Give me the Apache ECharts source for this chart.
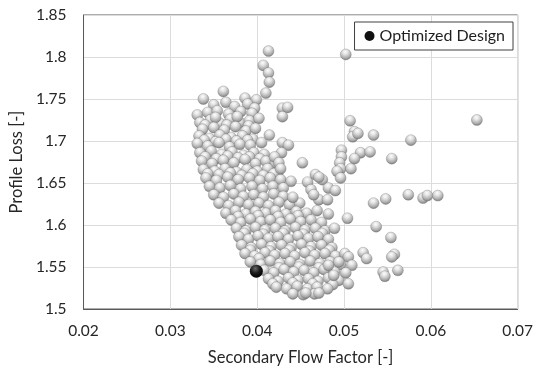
<!DOCTYPE html>
<html><head><meta charset="utf-8">
<script src="https://cdn.jsdelivr.net/npm/echarts@6/dist/echarts.min.js"></script>
<style>html,body{margin:0;padding:0;background:#fff}#c{width:536px;height:374px}</style>
</head><body><div id="c"></div>
<script>
// ---- data (Secondary Flow Factor, Profile Loss) ----
const xTickLabels = ['0.02','0.03','0.04','0.05','0.06','0.07'];
const yTickLabels = ['1.5','1.55','1.6','1.65','1.7','1.75','1.8','1.85'];

const topColumnPoints = [
  [0.0413,1.807],[0.0407,1.790],[0.0413,1.781],[0.0414,1.770],[0.0410,1.757],[0.0502,1.803]
];

const upperLeftPoints = [
  [0.0338,1.750],[0.0361,1.759],[0.0386,1.751],[0.0399,1.749],
  [0.0350,1.743],[0.0364,1.746],[0.0374,1.741],[0.0389,1.744],[0.0397,1.739],
  [0.0331,1.731],[0.0343,1.734],[0.0354,1.736],[0.0367,1.732],[0.0381,1.735],[0.0394,1.733],
  [0.0334,1.722],[0.0346,1.725],[0.0357,1.721],[0.0369,1.726],[0.0380,1.722],[0.0391,1.724],[0.0402,1.727],
  [0.0340,1.719],[0.0352,1.728],[0.0365,1.719],[0.0377,1.729],[0.0390,1.718],
  [0.0337,1.714],[0.0350,1.716],[0.0362,1.713],[0.0375,1.717],[0.0387,1.712],[0.0398,1.715],
  [0.0333,1.706],[0.0345,1.703],[0.0357,1.707],[0.0370,1.704],[0.0383,1.706],[0.0395,1.702],[0.0414,1.707],
  [0.0339,1.701],[0.0352,1.699],[0.0364,1.702],[0.0376,1.700],[0.0389,1.701],
  [0.0331,1.697],[0.0343,1.694],[0.0356,1.698],[0.0368,1.693],[0.0380,1.696],[0.0392,1.695],[0.0405,1.698],
  [0.0334,1.686],[0.0347,1.688],[0.0359,1.684],[0.0371,1.687],[0.0384,1.683],[0.0396,1.686],[0.0408,1.684],
  [0.0340,1.681],[0.0353,1.679],[0.0366,1.682],[0.0378,1.680],[0.0391,1.681],[0.0403,1.679],
  [0.0336,1.676],[0.0348,1.673],[0.0361,1.677],[0.0373,1.674],[0.0386,1.678],[0.0398,1.673],[0.0410,1.676],[0.0421,1.674],
  [0.0338,1.666],[0.0351,1.664],[0.0363,1.667],[0.0376,1.663],[0.0388,1.666],[0.0400,1.664],[0.0412,1.667],[0.0424,1.663],
  [0.0343,1.661],[0.0356,1.660],[0.0369,1.662],[0.0382,1.659],[0.0395,1.661],[0.0407,1.659],[0.0419,1.661],
  [0.0341,1.656],[0.0353,1.653],[0.0366,1.657],[0.0378,1.654],[0.0391,1.656],[0.0403,1.653],[0.0415,1.656],[0.0427,1.654],[0.0439,1.652],
  [0.0345,1.646],[0.0357,1.644],[0.0369,1.647],[0.0381,1.643],[0.0394,1.646],[0.0406,1.643],[0.0418,1.646],[0.0430,1.644]
];

const rightSpreadPoints = [
  [0.0429,1.739],[0.0435,1.740],[0.0429,1.729],[0.0429,1.698],[0.0436,1.695],[0.0428,1.686],
  [0.0420,1.681],[0.0425,1.674],[0.0427,1.667],[0.0452,1.674],
  [0.0507,1.724],[0.0512,1.711],[0.0510,1.705],[0.0516,1.709],[0.0534,1.707],[0.0577,1.701],[0.0653,1.725],
  [0.0497,1.689],[0.0497,1.681],[0.0495,1.674],[0.0496,1.667],[0.0492,1.664],[0.0508,1.667],
  [0.0519,1.686],[0.0530,1.687],[0.0512,1.679],[0.0555,1.679],
  [0.0458,1.651],[0.0462,1.642],[0.0467,1.660],[0.0475,1.654],[0.0471,1.657],[0.0482,1.644],[0.0490,1.641],
  [0.0471,1.630],[0.0481,1.630],[0.0465,1.636],[0.0496,1.656],[0.0441,1.633],
  [0.0534,1.626],[0.0548,1.631],[0.0574,1.636],[0.0591,1.632],[0.0596,1.635],[0.0608,1.635],
  [0.0504,1.608],[0.0482,1.613],[0.0489,1.596],[0.0537,1.598],[0.0554,1.585],
  [0.0522,1.567],[0.0526,1.560],[0.0505,1.562],[0.0509,1.552],[0.0545,1.544],[0.0547,1.539],
  [0.0558,1.565],[0.0555,1.562],[0.0562,1.546],[0.0494,1.556],[0.0482,1.552],[0.0502,1.543],
  [0.0488,1.540],[0.0505,1.530],[0.0471,1.519],[0.0456,1.519]
];

const lowerArcPoints = [
  [0.0350,1.636],[0.0361,1.633],[0.0373,1.637],[0.0384,1.634],[0.0396,1.636],[0.0407,1.633],[0.0419,1.637],[0.0430,1.634],
  [0.0356,1.626],[0.0367,1.623],[0.0379,1.627],[0.0390,1.624],[0.0402,1.626],[0.0413,1.623],[0.0425,1.627],[0.0437,1.624],[0.0449,1.626],
  [0.0364,1.614],[0.0375,1.617],[0.0387,1.613],[0.0398,1.616],[0.0410,1.614],[0.0421,1.617],[0.0433,1.613],[0.0445,1.616],[0.0457,1.614],[0.0469,1.617],
  [0.0378,1.610],[0.0401,1.611],[0.0424,1.610],[0.0447,1.611],
  [0.0370,1.606],[0.0381,1.603],[0.0392,1.607],[0.0404,1.604],[0.0415,1.606],[0.0427,1.603],[0.0438,1.607],[0.0450,1.604],[0.0462,1.606],[0.0474,1.603],
  [0.0376,1.596],[0.0387,1.593],[0.0398,1.597],[0.0409,1.594],[0.0421,1.596],[0.0432,1.593],[0.0444,1.597],[0.0455,1.594],[0.0467,1.596],[0.0478,1.593],
  [0.0385,1.590],[0.0407,1.589],[0.0430,1.590],[0.0453,1.589],[0.0475,1.590],
  [0.0379,1.586],[0.0390,1.583],[0.0401,1.587],[0.0413,1.584],[0.0424,1.586],[0.0436,1.583],[0.0447,1.587],[0.0459,1.584],[0.0470,1.586],[0.0482,1.583],
  [0.0382,1.576],[0.0393,1.573],[0.0405,1.577],[0.0416,1.574],[0.0428,1.576],[0.0439,1.573],[0.0451,1.577],[0.0462,1.574],[0.0474,1.576],[0.0486,1.573],
  [0.0392,1.570],[0.0414,1.569],[0.0437,1.570],[0.0460,1.569],[0.0483,1.570],
  [0.0386,1.566],[0.0397,1.563],[0.0409,1.567],[0.0420,1.564],[0.0432,1.566],[0.0443,1.563],[0.0455,1.567],[0.0466,1.564],[0.0478,1.566],[0.0490,1.563],[0.0501,1.566],
  [0.0402,1.560],
  [0.0392,1.556],[0.0404,1.553],[0.0415,1.557],[0.0426,1.554],[0.0438,1.556],[0.0449,1.553],[0.0461,1.557],[0.0472,1.554],[0.0484,1.556],[0.0496,1.553],
  [0.0425,1.549],[0.0448,1.550],[0.0471,1.549],
  [0.0408,1.546],[0.0419,1.543],[0.0431,1.547],[0.0442,1.544],[0.0454,1.546],[0.0465,1.543],[0.0477,1.547],[0.0489,1.544],
  [0.0413,1.536],[0.0424,1.533],[0.0436,1.537],[0.0447,1.534],[0.0459,1.536],[0.0470,1.533],[0.0482,1.537],[0.0494,1.534],
  [0.0418,1.530],[0.0441,1.531],[0.0464,1.530],[0.0487,1.529],
  [0.0422,1.526],[0.0434,1.524],[0.0446,1.527],[0.0458,1.524],[0.0469,1.526],[0.0481,1.524],
  [0.0441,1.518],[0.0453,1.517],[0.0466,1.518]
];

const optimizedPoints = [[0.0399,1.545]];

// ---- chart ----
const FONT = 'Lato';
const AX = '#5a5a5a';
const TXT = '#262626';
const chart = echarts.init(document.getElementById('c'), null, {renderer:'canvas'});

const greySphere = {
  type:'radial', x:0.45, y:0.28, r:0.75,
  colorStops:[
    {offset:0, color:'#fdfdfd'},
    {offset:0.3, color:'#e2e2e2'},
    {offset:0.7, color:'#ababab'},
    {offset:1, color:'#747474'}
  ]
};
const blackSphere = {
  type:'radial', x:0.42, y:0.3, r:0.72,
  colorStops:[
    {offset:0, color:'#6a6a6a'},
    {offset:0.5, color:'#1a1a1a'},
    {offset:1, color:'#000000'}
  ]
};

function lookup(labels, v){
  const f = labels.find(l => Math.abs(parseFloat(l) - v) < 1e-9);
  return f === undefined ? '' : f;
}

chart.setOption({
  animation:false,
  backgroundColor:'#ffffff',
  grid:{left:80, right:17, top:15, bottom:65, show:true, borderColor:AX, borderWidth:1, containLabel:false},
  legend:{
    data:['Optimized Design'],
    right:23, top:22,
    icon:'circle', itemWidth:10, itemHeight:10,
    padding:[6,8,6,10],
    borderColor:'#404040', borderWidth:1, backgroundColor:'#ffffff',
    itemStyle:{color:'#111111'},
    textStyle:{fontFamily:FONT, fontSize:16, color:'#1e1e1e'}
  },
  xAxis:{
    type:'value', min:0.02, max:0.07, interval:0.01,
    name:'Secondary Flow Factor [-]', nameLocation:'middle', nameGap:40,
    nameTextStyle:{fontFamily:FONT, fontSize:16.5, color:TXT},
    axisLine:{show:true, lineStyle:{color:AX}},
    axisTick:{show:false},
    axisLabel:{margin:14, fontFamily:FONT, fontSize:15.5, color:TXT, formatter:v => lookup(xTickLabels, v)},
    splitLine:{show:true, lineStyle:{color:'#dcdcdc'}}
  },
  yAxis:{
    type:'value', min:1.5, max:1.85, interval:0.05,
    name:'Profile Loss [-]', nameLocation:'middle', nameGap:48,
    nameTextStyle:{fontFamily:FONT, fontSize:16.5, color:TXT},
    axisLine:{show:true, lineStyle:{color:AX}},
    axisTick:{show:false},
    axisLabel:{margin:17, fontFamily:FONT, fontSize:15.5, color:TXT, formatter:v => lookup(yTickLabels, v)},
    splitLine:{show:true, lineStyle:{color:'#dcdcdc'}}
  },
  series:[
    {
      name:'Design Points', type:'scatter', symbol:'circle', symbolSize:11, silent:true,
      data: topColumnPoints.concat(upperLeftPoints, lowerArcPoints, rightSpreadPoints),
      itemStyle:{color:greySphere, borderColor:'rgba(100,100,100,0.6)', borderWidth:0.5, opacity:1},
      emphasis:{disabled:true}
    },
    {
      name:'Optimized Design', type:'scatter', symbol:'circle', symbolSize:13, silent:true, z:5,
      data: optimizedPoints,
      itemStyle:{color:blackSphere, opacity:1},
      emphasis:{disabled:true}
    }
  ]
});
</script>
</body></html>
